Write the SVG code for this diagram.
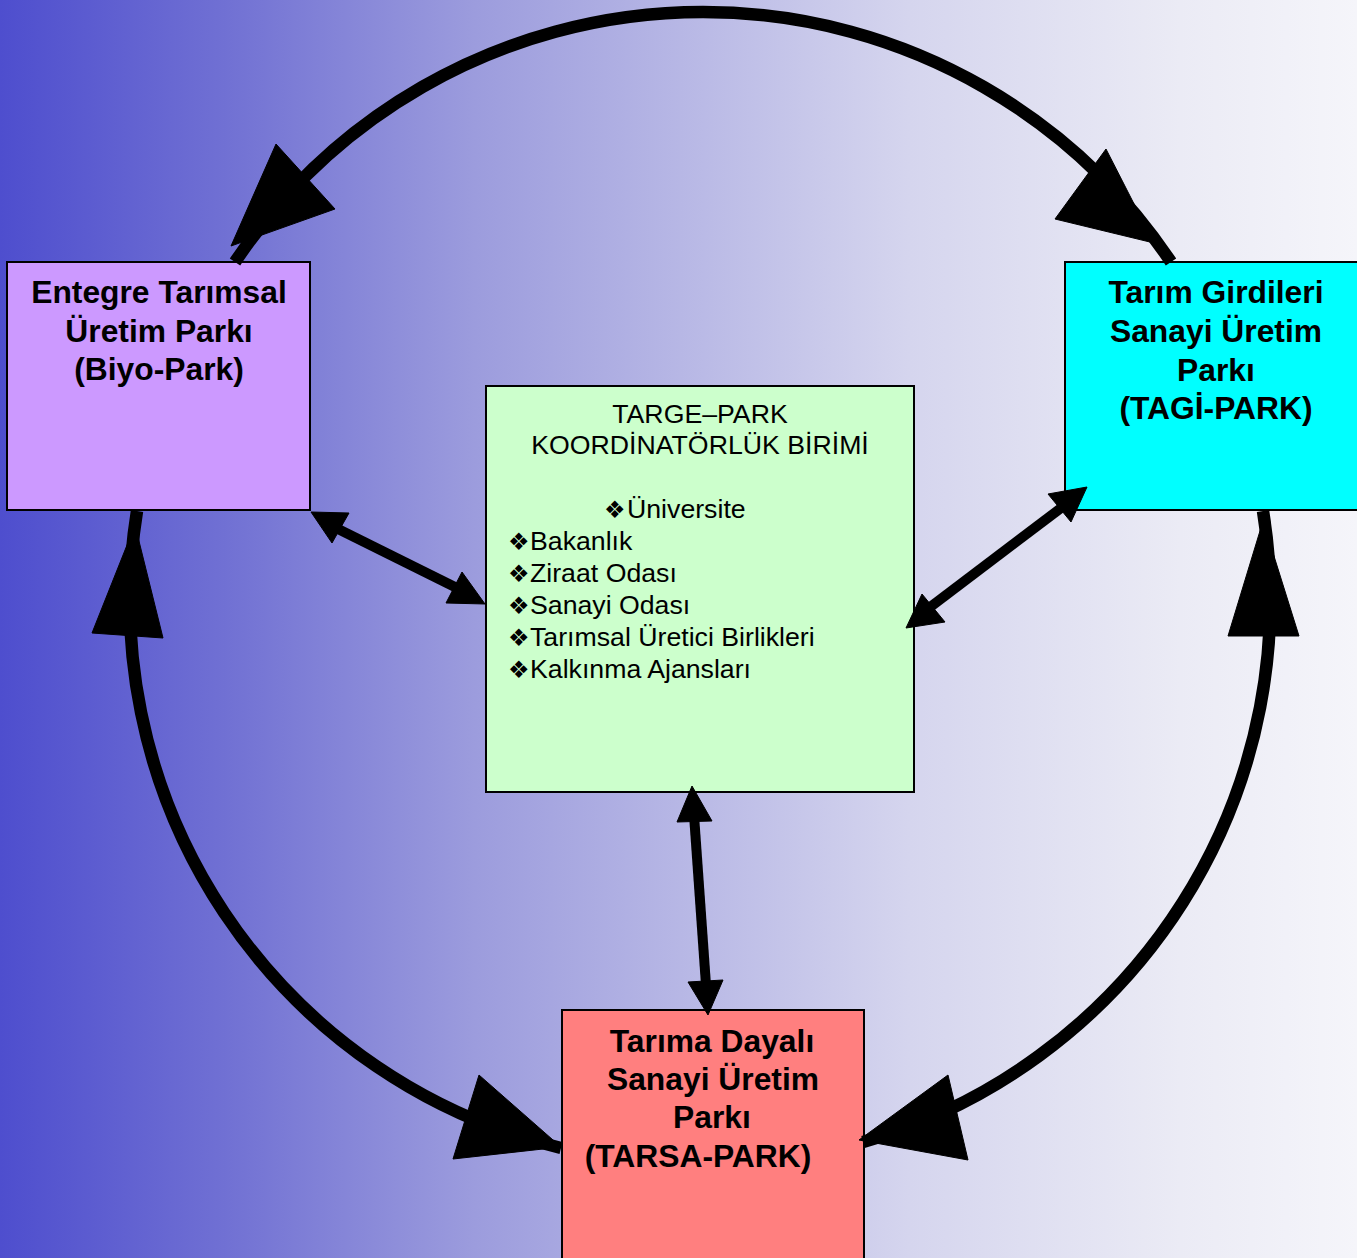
<svg xmlns="http://www.w3.org/2000/svg" width="1357" height="1258" viewBox="0 0 1357 1258">
<defs>
<linearGradient id="bg" x1="0" y1="0" x2="1" y2="0">
<stop offset="0" stop-color="#4E4ECE"/>
<stop offset="0.16" stop-color="#6F6FD3"/>
<stop offset="0.35" stop-color="#9C9CDD"/>
<stop offset="0.67" stop-color="#D5D5EE"/>
<stop offset="0.87" stop-color="#EBEBF5"/>
<stop offset="1" stop-color="#F5F5FA"/>
</linearGradient>
</defs>
<style>
.box{stroke:#000;stroke-width:2}
.t{font-family:"Liberation Sans",Arial,sans-serif;font-weight:bold;font-size:31.8px;fill:#000;text-anchor:middle}
.c{font-family:"Liberation Sans",Arial,sans-serif;font-size:26.7px;fill:#000}
.bul{font-family:"DejaVu Sans",sans-serif;font-size:24px}
.arc{fill:none;stroke:#000;stroke-width:12.5}
.sh{fill:none;stroke:#000;stroke-width:10}
.ah{fill:#000;stroke:#000;stroke-width:1;stroke-linejoin:miter}
</style>
<rect x="0" y="0" width="1357" height="1258" fill="url(#bg)"/>
<g id="biyo-park">
<rect class="box" x="7" y="262" width="303" height="248" fill="#CC99FF"/>
<text class="t" x="159" y="303">Entegre Tarımsal</text>
<text class="t" x="159" y="342">Üretim Parkı</text>
<text class="t" x="159" y="380">(Biyo-Park)</text>
</g>
<g id="tagi-park">
<rect class="box" x="1065" y="262" width="300" height="248" fill="#00FFFF"/>
<text class="t" x="1216" y="303">Tarım Girdileri</text>
<text class="t" x="1216" y="342">Sanayi Üretim</text>
<text class="t" x="1216" y="381">Parkı</text>
<text class="t" x="1216" y="419">(TAGİ-PARK)</text>
</g>
<g id="koordinatorluk">
<rect class="box" x="486" y="386" width="428" height="406" fill="#CCFFCC"/>
<text class="c" x="700" y="423" text-anchor="middle">TARGE–PARK</text>
<text class="c" x="700" y="454" text-anchor="middle">KOORDİNATÖRLÜK BİRİMİ</text>
<text class="c" y="518"><tspan class="bul" x="604">❖</tspan><tspan x="627">Üniversite</tspan></text>
<text class="c" y="550"><tspan class="bul" x="508">❖</tspan><tspan x="530">Bakanlık</tspan></text>
<text class="c" y="582"><tspan class="bul" x="508">❖</tspan><tspan x="530">Ziraat Odası</tspan></text>
<text class="c" y="614"><tspan class="bul" x="508">❖</tspan><tspan x="530">Sanayi Odası</tspan></text>
<text class="c" y="646"><tspan class="bul" x="508">❖</tspan><tspan x="530">Tarımsal Üretici Birlikleri</tspan></text>
<text class="c" y="678"><tspan class="bul" x="508">❖</tspan><tspan x="530">Kalkınma Ajansları</tspan></text>
</g>
<g id="tarsa-park">
<rect class="box" x="562" y="1010" width="302" height="260" fill="#FF7F7F"/>
<text class="t" x="712" y="1052">Tarıma Dayalı</text>
<text class="t" x="713" y="1090">Sanayi Üretim</text>
<text class="t" x="712" y="1128">Parkı</text>
<text class="t" x="698" y="1167">(TARSA-PARK)</text>
</g>
<g id="connectors">
<path class="arc" d="M235,262 A563,563 0 0 1 1171,262"/>
<polygon class="ah" points="276,144 335,209 231,246"/>
<polygon class="ah" points="1106,149 1055,219 1154,243"/>
<path class="arc" d="M137,511 A563,563 0 0 0 561,1148"/>
<polygon class="ah" points="135,525 92,633 163,638"/>
<polygon class="ah" points="479,1075 453,1159 561,1147"/>
<path class="arc" d="M1263,511 A563,563 0 0 1 863,1142"/>
<polygon class="ah" points="1263,521 1228,636 1299,636"/>
<polygon class="ah" points="859,1140 948,1075 968,1160"/>
<path class="sh" d="M330,525 L465,592"/>
<polygon class="ah" points="311,512 349,513 332,543"/>
<polygon class="ah" points="485,604 462,572 446,603"/>
<path class="sh" d="M1065,505 L925,611"/>
<polygon class="ah" points="1087,487 1048,494 1071,522"/>
<polygon class="ah" points="906,628 922,594 945,622"/>
<path class="sh" d="M694,815 L706,985"/>
<polygon class="ah" points="692,786 677,822 712,821"/>
<polygon class="ah" points="708,1015 688,982 723,980"/>
</g>
</svg>
